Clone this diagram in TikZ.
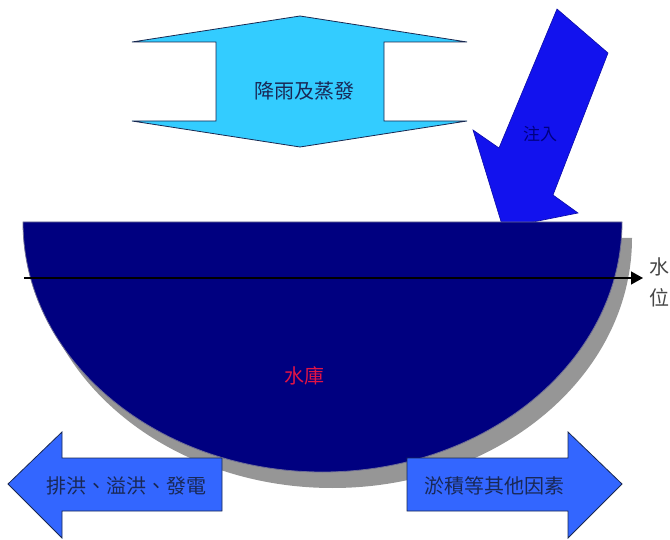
\documentclass[tikz,border=0pt]{standalone}
\usepackage{fontspec}
\usetikzlibrary{arrows.meta}
\newfontfamily\tcfont{Noto Sans CJK TC}
\definecolor{rainc}{RGB}{51,204,255}
\definecolor{inflowc}{RGB}{18,18,238}
\definecolor{resc}{RGB}{0,0,128}
\definecolor{shadowc}{RGB}{150,150,150}
\definecolor{outc}{RGB}{51,102,255}
\definecolor{edgec}{RGB}{25,40,80}
\definecolor{labc}{RGB}{25,40,85}
\definecolor{resl}{RGB}{225,20,70}
\definecolor{wlc}{RGB}{70,70,70}
\tikzset{
  shapeedge/.style={draw=edgec, line width=0.8pt, line join=miter},
  cjk/.style={font=\tcfont\fontsize{#1}{#1}\selectfont, inner sep=0pt},
}
\begin{document}
\begin{tikzpicture}[x=1pt,y=-1pt]
\useasboundingbox (0,0) rectangle (670,540);
\clip (0,0) rectangle (670,540);
% rain / evaporation double arrow
\path[fill=rainc, shapeedge] (300,16) -- (467,42) -- (384,42) -- (384,121) -- (467,121)
  -- (300,147) -- (132,121) -- (216,121) -- (216,42) -- (132,42) -- cycle;
\node[cjk=20, text=labc] (rain) at (304,91) {降雨及蒸發};
% inflow arrow
\path[fill=inflowc, draw=inflowc!70!black, line width=0.6pt] (557,9) -- (608,53) -- (553,195) -- (578,213)
  -- (503,228) -- (473,130) -- (499,148) -- cycle;
\node[cjk=17, text=resc] (inflow) at (540,134) {注入};
% reservoir shadow and body
\fill[shadowc] (33,238) arc[start angle=180, end angle=360, x radius=299.5pt, y radius=250pt] -- cycle;
\path[fill=resc, draw={rgb,255:red,110;green,110;blue,150}, line width=0.8pt]
  (23,222) arc[start angle=180, end angle=360, x radius=299.5pt, y radius=250pt] -- cycle;
\node[cjk=20, text=resl] (res) at (304,376) {水庫};
% water level line
\coordinate (wl0) at (24,278);
\coordinate (wl1) at (643,278);
\draw[line width=1.3pt, -{Triangle[length=12pt,width=13pt]}] (wl0) -- (wl1);
\node[cjk=20, text=wlc, anchor=north west, align=left] (wl) at (649,258) {水\\[11pt]位};
% outflow arrows
\path[fill=outc, shapeedge] (8,484) -- (62,432) -- (62,458) -- (222,458) -- (222,511)
  -- (62,511) -- (62,538) -- cycle;
\node[cjk=20, text=labc] (outl) at (126,486) {排洪、溢洪、發電};
\path[fill=outc, shapeedge] (622,484) -- (568,432) -- (568,458) -- (407,458) -- (407,511)
  -- (568,511) -- (568,538) -- cycle;
\node[cjk=20, text=labc] (outr) at (494,486) {淤積等其他因素};
\end{tikzpicture}
\end{document}
